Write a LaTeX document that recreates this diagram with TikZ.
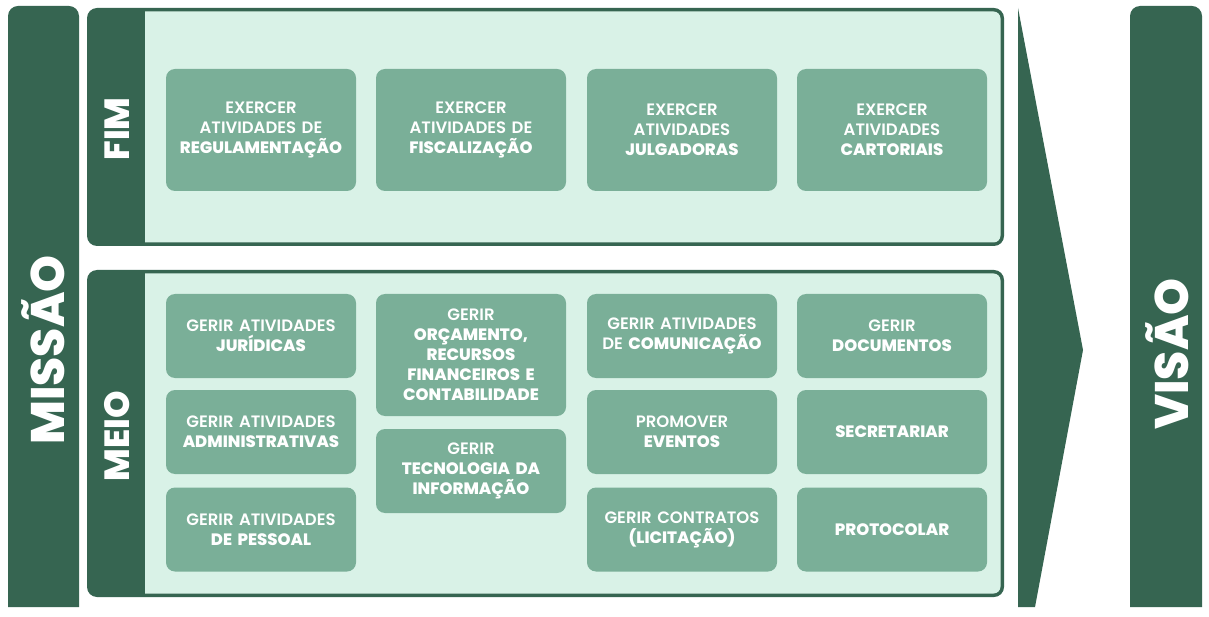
\documentclass[tikz,border=0pt]{standalone}
\usepackage{fontspec}
\setmainfont{Poppins}[UprightFont={* SemiBold},BoldFont={* ExtraBold}]
\definecolor{dk}{HTML}{366551}
\definecolor{lt}{HTML}{D9F2E7}
\definecolor{bx}{HTML}{7AAF98}
\tikzset{
  cell/.style={fill=bx, rounded corners=9pt, minimum width=190pt, text width=188pt,
    align=center, text=white, inner sep=0pt, font=\fontsize{16.5}{20}\selectfont},
  tall/.style={cell, minimum height=122pt},
  short/.style={cell, minimum height=84pt},
  bigtitle/.style={text=white, rotate=90, inner sep=0pt, font=\bfseries\fontsize{47}{47}\selectfont},
  midtitle/.style={text=white, rotate=90, inner sep=0pt, font=\bfseries\fontsize{35}{35}\selectfont},
  bar/.style={fill=dk},
}
\begin{document}
\begin{tikzpicture}[x=1pt,y=-1pt]
\useasboundingbox (0,0) rectangle (1209,617);
\fill[white] (0,0) rectangle (1209,617);
% Missao bar
\fill[bar] (8,607) [rounded corners=10pt]-- (8,6) -- (79,6) [sharp corners]-- (79,607) -- cycle;
\node[bigtitle] (missao) at (43,350) {MISSÃO};
% Visao bar
\fill[bar] (1130,607) [rounded corners=10pt]-- (1130,6) -- (1202,6) [sharp corners]-- (1202,607) -- cycle;
\node[bigtitle] (visao) at (1167,354) {VISÃO};
% arrow
\fill[bar] (1018,8) -- (1083,350) -- (1035,607) -- (1018,607) -- cycle;
% FIM panel
\fill[dk, rounded corners=10pt] (87,8) rectangle (1004,246);
\fill[lt, rounded corners=7pt] (120,11.5) rectangle (1000.5,242.5);
\fill[dk] (100,11) rectangle (145,243);
\node[midtitle] (fim) at (117,129) {FIM};
% MEIO panel
\fill[dk, rounded corners=10pt] (87,270) rectangle (1004,597);
\fill[lt, rounded corners=7pt] (120,273.5) rectangle (1000.5,593.5);
\fill[dk] (100,273) rectangle (145,594);
\node[midtitle] (meio) at (117,436) {MEIO};
% FIM boxes
\node[tall] (f1) at (261,130) {EXERCER\\ATIVIDADES DE\\\textbf{REGULAMENTAÇÃO}};
\node[tall] (f2) at (471,130) {EXERCER\\ATIVIDADES DE\\\textbf{FISCALIZAÇÃO}};
\node[tall] (f3) at (682,130) {EXERCER\\ATIVIDADES\\\textbf{JULGADORAS}};
\node[tall] (f4) at (892,130) {EXERCER\\ATIVIDADES\\\textbf{CARTORIAIS}};
% MEIO col 1
\node[short] (m11) at (261,336) {GERIR ATIVIDADES\\\textbf{JURÍDICAS}};
\node[short] (m12) at (261,432) {GERIR ATIVIDADES\\\textbf{ADMINISTRATIVAS}};
\node[short] (m13) at (261,529.5) {GERIR ATIVIDADES\\\textbf{DE PESSOAL}};
% MEIO col 2
\node[tall] (m21) at (471,355) {GERIR\\\textbf{ORÇAMENTO,}\\\textbf{RECURSOS}\\\textbf{FINANCEIROS E}\\\textbf{CONTABILIDADE}};
\node[short] (m22) at (471,471) {GERIR\\\textbf{TECNOLOGIA DA}\\\textbf{INFORMAÇÃO}};
% MEIO col 3
\node[short] (m31) at (682,336) {GERIR ATIVIDADES\\DE \textbf{COMUNICAÇÃO}};
\node[short] (m32) at (682,432) {PROMOVER\\\textbf{EVENTOS}};
\node[short] (m33) at (682,529.5) {GERIR CONTRATOS\\\textbf{(LICITAÇÃO)}};
% MEIO col 4
\node[short] (m41) at (892,336) {GERIR\\\textbf{DOCUMENTOS}};
\node[short] (m42) at (892,432) {\textbf{SECRETARIAR}};
\node[short] (m43) at (892,529.5) {\textbf{PROTOCOLAR}};
\end{tikzpicture}
\end{document}
